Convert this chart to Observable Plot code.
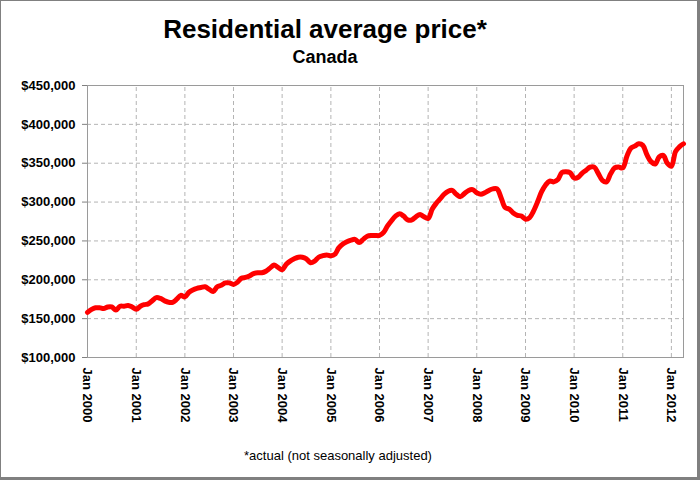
<!DOCTYPE html>
<html>
<head>
<meta charset="utf-8">
<script src="https://cdn.jsdelivr.net/npm/d3@7"></script>
<script src="https://cdn.jsdelivr.net/npm/@observablehq/plot@0.6"></script>
<style>
  html, body { margin: 0; padding: 0; background: #fff; }
  #wrap { position: relative; width: 700px; height: 480px; overflow: hidden; background: #fff;
          font-family: "Liberation Sans", Arial, sans-serif; color: #000; }
  #wrap svg { position: absolute; left: 0; top: 0; }
  #border { position: absolute; left: 0; top: 0; width: 700px; height: 480px; box-sizing: border-box;
            border-left: 1px solid #808080; border-top: 1px solid #808080;
            border-right: 3px solid #808080; border-bottom: 3px solid #808080; pointer-events: none; }
  #title { position: absolute; left: 0; width: 650px; top: 16px; text-align: center;
           font-weight: bold; font-size: 26px; line-height: 26px; }
  #subtitle { position: absolute; left: 0; width: 650px; top: 48px; text-align: center;
              font-weight: bold; font-size: 18px; line-height: 18px; }
  #caption { position: absolute; left: 0; width: 676px; top: 449px; text-align: center;
             font-size: 13px; line-height: 13px; }
</style>
</head>
<body>
<div id="wrap">
  <div id="chart"></div>
  <div id="title">Residential average price*</div>
  <div id="subtitle">Canada</div>
  <div id="caption">*actual (not seasonally adjusted)</div>
  <div id="border"></div>
</div>
<script>
// Monthly residential average price, Canada (thousands of dollars), Jan 2000 – Apr 2012
const startYear = 2000;
const prices = [
  158,162,164,164,163,165,165,161,166,166,167,165,   // 2000
  162,166,168,169,173,177,176,173,171,171,175,180,   // 2001
  178,184,187,189,190,191,188,185,191,193,196,196,   // 2002
  194,197,202,203,205,208,209,209,211,215,219,216,   // 2003
  213,220,224,227,229,229,227,222,224,229,231,232,   // 2004
  231,233,241,246,249,251,252,248,252,256,257,257,   // 2005
  257,261,269,276,282,285,282,277,277,281,284,281,   // 2006
  279,291,298,304,310,314,315,310,307,311,315,316,   // 2007
  312,310,312,315,317,317,306,293,291,286,283,282,   // 2008
  278,280,288,300,313,322,327,326,329,338,339,338,   // 2009
  331,332,337,341,345,345,337,328,326,336,344,345,   // 2010
  344,359,369,372,375,373,361,352,349,358,360,350,   // 2011
  346,365,371,375                                    // 2012
];
const tickYears = [2000,2001,2002,2003,2004,2005,2006,2007,2008,2009,2010,2011,2012];
const yTicks = [100000,150000,200000,250000,300000,350000,400000,450000];

const data = prices.map((p, i) => ({
  date: d3.utcMonth.offset(new Date(Date.UTC(startYear, 0, 1)), i),
  price: p * 1000
}));
const xTicks = tickYears.map(y => new Date(Date.UTC(y, 0, 1)));
const xStart = data[0].date, xEnd = data[data.length - 1].date;
const fmtMoney = d => "$" + d3.format(",")(d);
const gridStyle = { stroke: "#b4b4b4", strokeOpacity: 1, strokeWidth: 1, strokeDasharray: "4,3" };

const chart = Plot.plot({
  width: 700,
  height: 480,
  marginLeft: 87,
  marginRight: 17,
  marginTop: 85,
  marginBottom: 123,
  style: { fontFamily: '"Liberation Sans", Arial, sans-serif', fontSize: "13px", fontWeight: "bold",
           background: "transparent", color: "#000" },
  x: { type: "utc", domain: [xStart, xEnd] },
  y: { domain: [100000, 450000] },
  marks: [
    Plot.ruleY(yTicks.slice(1, -1), { x1: () => xStart, x2: () => xEnd, ...gridStyle }),
    Plot.ruleX(xTicks.slice(1), { y1: () => 100000, y2: () => 450000, ...gridStyle }),
    Plot.frame({ stroke: "#9a9a9a" }),
    Plot.axisY({ ticks: yTicks, tickFormat: fmtMoney, tickSize: 5, tickPadding: 7, stroke: "#808080",
                 label: null, fill: "#000" }),
    Plot.axisX({ ticks: xTicks, tickFormat: d => "Jan " + d.getUTCFullYear(), tickRotate: 90,
                 tickSize: 0, tickPadding: 10, label: null, fill: "#000" }),
    Plot.lineY(data, { x: "date", y: "price", stroke: "#ff0000", strokeWidth: 5, curve: "catmull-rom" })
  ]
});
document.getElementById("chart").appendChild(chart);
</script>
</body>
</html>
